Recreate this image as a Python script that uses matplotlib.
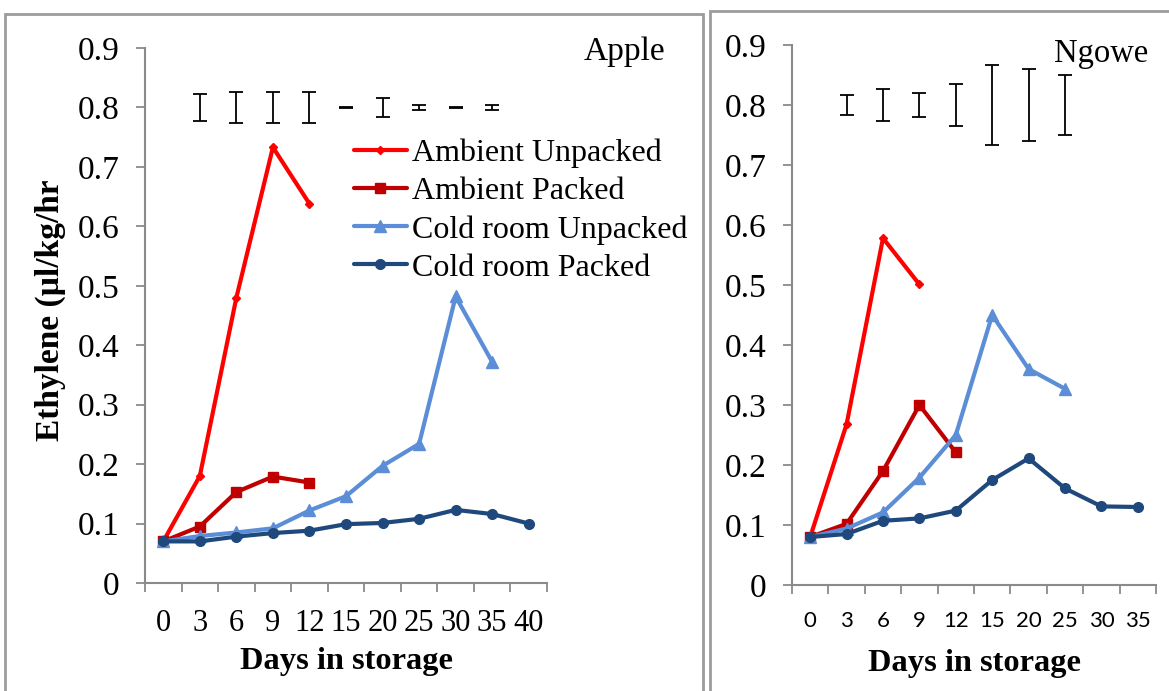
import numpy as np
import matplotlib
matplotlib.use("Agg")
import matplotlib.pyplot as plt
from matplotlib.patches import Rectangle

W, H = 1169, 691

# ---- data ----
apple_days = ['0', '3', '6', '9', '12', '15', '20', '25', '30', '35', '40']
apple_amb_unpacked = [0.07, 0.18, 0.48, 0.733, 0.638]
apple_amb_packed = [0.07, 0.095, 0.153, 0.179, 0.169]
apple_cold_unpacked = [0.07, 0.079, 0.085, 0.092, 0.122, 0.146, 0.197, 0.234, 0.482, 0.372]
apple_cold_packed = [0.07, 0.07, 0.078, 0.084, 0.088, 0.099, 0.101, 0.108, 0.123, 0.116, 0.100]
apple_err_mid = [0.80] * 9
apple_err = [0.022, 0.026, 0.026, 0.026, 0.001, 0.016, 0.004, 0.001, 0.004]

ngowe_days = ['0', '3', '6', '9', '12', '15', '20', '25', '30', '35']
ngowe_amb_unpacked = [0.08, 0.268, 0.578, 0.501]
ngowe_amb_packed = [0.08, 0.102, 0.19, 0.30, 0.221]
ngowe_cold_unpacked = [0.08, 0.094, 0.121, 0.179, 0.25, 0.45, 0.36, 0.327]
ngowe_cold_packed = [0.08, 0.085, 0.107, 0.111, 0.124, 0.175, 0.211, 0.161, 0.131, 0.13]
ngowe_err_mid = [0.80] * 7
ngowe_err = [0.016, 0.026, 0.02, 0.035, 0.066, 0.06, 0.05]

series_names = ['Ambient Unpacked', 'Ambient Packed', 'Cold room Unpacked', 'Cold room Packed']
colors = ['#FF0000', '#C00000', '#5B8ED6', '#1F497D']
markers = ['D', 's', '^', 'o']
msizes = [4.5, 7, 8, 7]

serif = 'Liberation Serif'
gray = '#8a8a8a'

fig = plt.figure(figsize=(W / 100, H / 100), dpi=100)


def setup(ax, days, ytick_size, xfont, xsize, xpad):
    n = len(days)
    ax.set_xlim(-0.5, n - 0.5)
    ax.set_ylim(0, 0.9)
    for s in ['top', 'right']:
        ax.spines[s].set_visible(False)
    for s in ['left', 'bottom']:
        ax.spines[s].set_color(gray)
        ax.spines[s].set_linewidth(1.5)
    ax.set_yticks(np.arange(0, 0.91, 0.1))
    ax.set_yticklabels(['0'] + ['%.1f' % v for v in np.arange(0.1, 0.91, 0.1)],
                       family=serif, fontsize=ytick_size)
    ax.tick_params(axis='y', direction='out', length=6.5, width=1.3, color=gray, pad=12)
    ax.set_xticks(np.arange(-0.5, n, 1))
    ax.set_xticklabels([])
    ax.tick_params(axis='x', which='major', direction='out', length=6.5, width=1.3, color=gray)
    ax.set_xticks(range(n), days, minor=True, family=xfont, fontsize=xsize)
    ax.tick_params(axis='x', which='minor', length=0, pad=xpad)


def draw(ax, data, err_mid, err):
    for vals, c, m, ms in zip(data, colors, markers, msizes):
        ax.plot(range(len(vals)), vals, color=c, lw=3, marker=m, ms=ms,
                markeredgecolor=c, solid_capstyle='round')
    ax.errorbar(range(1, len(err) + 1), err_mid, yerr=err, fmt='none',
                ecolor='black', elinewidth=1.3, capsize=4.8, capthick=1.3)


ax1 = fig.add_axes([145 / W, 1 - 583 / H, 402 / W, (583 - 48) / H])
setup(ax1, apple_days, 24, serif, 22, 19)
draw(ax1, [apple_amb_unpacked, apple_amb_packed, apple_cold_unpacked, apple_cold_packed],
     apple_err_mid, apple_err)

ax2 = fig.add_axes([792 / W, 1 - 585 / H, 364 / W, (585 - 45) / H])
setup(ax2, ngowe_days, 24, 'Lato', 16, 19)
draw(ax2, [ngowe_amb_unpacked, ngowe_amb_packed, ngowe_cold_unpacked, ngowe_cold_packed],
     ngowe_err_mid, ngowe_err)

leg = ax1.legend(ax1.lines[:4], series_names, loc='upper left',
                 bbox_to_anchor=(354 / W, 1 - 139 / H), bbox_transform=fig.transFigure,
                 frameon=False, borderpad=0, borderaxespad=0, handlelength=1.65,
                 handletextpad=0.15, labelspacing=0.27,
                 prop={'family': serif, 'size': 23})

fig.text(665 / W, 1 - 60 / H, 'Apple', ha='right', va='baseline', family=serif, fontsize=24)
fig.text(1148 / W, 1 - 62 / H, 'Ngowe', ha='right', va='baseline', family=serif, fontsize=23.5)
fig.text(50 / W, 1 - 310 / H, 'Ethylene (µl/kg/hr', rotation=90, ha='center', va='center',
         family=serif, fontsize=24, fontweight='bold')
fig.text(346 / W, 1 - 662 / H, 'Days in storage', ha='center', va='center',
         family=serif, fontsize=23.3, fontweight='bold')
fig.text(974 / W, 1 - 664 / H, 'Days in storage', ha='center', va='center',
         family=serif, fontsize=23.3, fontweight='bold')

# panel borders
fig.add_artist(Rectangle((5 / W, -0.1), (703 - 5) / W, 1.1 - 14 / H, transform=fig.transFigure,
                         fill=False, edgecolor='#9c9c9c', lw=2))
fig.add_artist(Rectangle((710 / W, -0.1), 0.5, 1.1 - 11 / H, transform=fig.transFigure,
                         fill=False, edgecolor='#9c9c9c', lw=2))

fig.savefig('out.png', dpi=100)
